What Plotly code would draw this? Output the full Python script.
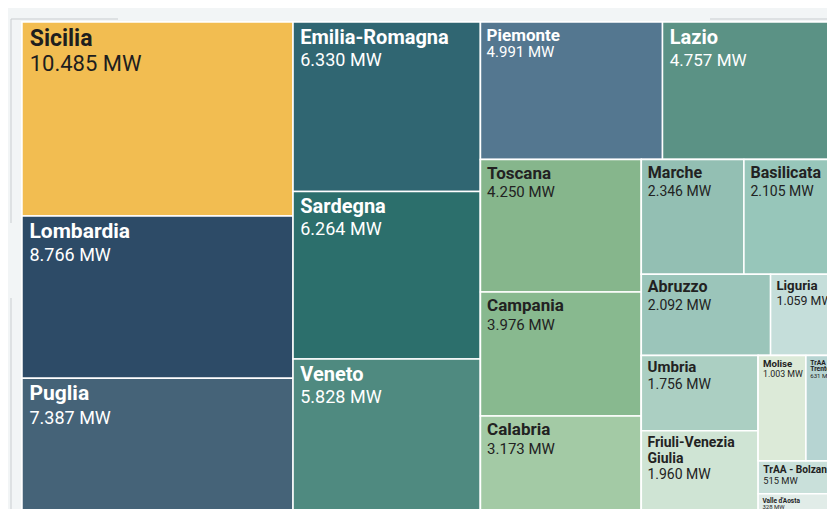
import plotly.graph_objects as go

# ---- data ----
regions = ["Sicilia", "Lombardia", "Puglia",
           "Emilia-Romagna", "Sardegna", "Veneto",
           "Piemonte", "Lazio",
           "Toscana", "Campania", "Calabria",
           "Marche", "Basilicata", "Abruzzo", "Liguria",
           "Umbria", "Friuli-Venezia Giulia",
           "Molise", "TrAA - Trento", "TrAA - Bolzano", "Valle d'Aosta"]
display = ["Sicilia", "Lombardia", "Puglia",
           "Emilia-Romagna", "Sardegna", "Veneto",
           "Piemonte", "Lazio",
           "Toscana", "Campania", "Calabria",
           "Marche", "Basilicata", "Abruzzo", "Liguria",
           "Umbria", "Friuli-Venezia<br>Giulia",
           "Molise", "TrAA -<br>Trento", "TrAA - Bolzano", "Valle d'Aosta"]
mw = [10485, 8766, 7387,
      6330, 6264, 5828,
      4991, 4757,
      4250, 3976, 3173,
      2346, 2105, 2092, 1059,
      1756, 1960,
      1003, 631, 515, 328]
# layout groups (hierarchy used for slice/dice tiling)
region_group = ["C1", "C1", "C1",
                "C2", "C2", "C2",
                "C3top", "C3top",
                "TosCol", "TosCol", "TosCol",
                "R1", "R1", "R2", "R2",
                "UF", "UF",
                "MT", "MT", "RG", "RG"]
groups = ["root", "C1", "C2", "C3", "C3top", "C3bot", "TosCol", "Small",
          "R1", "R2", "R3", "UF", "RG", "MT"]
group_parent = ["", "root", "root", "root", "C3", "C3", "C3bot", "C3bot",
                "Small", "Small", "Small", "R3", "R3", "RG"]

colors = ["#F2BD51", "#2D4B67", "#456378",
          "#306672", "#2C6F6C", "#4F8A80",
          "#547790", "#5B9285",
          "#86B68C", "#88B98F", "#A3CAA5",
          "#93BFB3", "#97C6BA", "#9BC5BA", "#C5DEDA",
          "#ABCFC2", "#CFE4D4",
          "#DCEAD8", "#B6D4D2", "#C9E0DA", "#E1ECE8"]
text_colors = ["#1E1E1E", "white", "white",
               "white", "white", "white",
               "white", "white"] + ["#222222"] * 13
label_sizes = [23, 21, 21, 20, 20, 20, 17, 20, 17, 17, 17,
               16, 16, 16, 15, 15, 14, 11, 11, 12, 6.5]
value_sizes = [22, 18, 18, 18, 18, 18, 15, 17, 15, 15, 15,
               14, 14, 14, 14, 14, 14, 10, 10, 11, 6]
line_sizes = [19, 18, 18, 17, 17, 17, 12.5, 17, 14.5, 14.5, 14.5,
              14, 14, 14, 13, 13, 12.5, 8.5, 8.5, 10, 5]

# ---- build treemap ----
ids = groups + regions
parents = group_parent + region_group
labels = groups + regions
values = [0] * len(groups) + mw
fmt = lambda v: f"{v:,}".replace(",", ".") + " MW"
nb = "\u00a0"
templates = [""] * len(groups) + [
    f"{nb}<span style='font-size:{ls}px'><b>{d.replace('<br>', '</b></span><br>' + nb + f'<span style=\"font-size:{ls}px\"><b>')}</b></span>"
    f"<br>{nb}<span style='font-size:{vs}px'>{fmt(v)}</span>"
    for d, v, ls, vs in zip(display, mw, label_sizes, value_sizes)]
mcolors = ["#F6F8F9"] + ["white"] * (len(groups) - 1) + colors
tcolors = ["white"] * len(groups) + text_colors
tsizes = [12] * len(groups) + line_sizes

fig = go.Figure(go.Treemap(
    ids=ids, labels=labels, parents=parents, values=values,
    branchvalues="remainder", sort=False,
    texttemplate=templates, textposition="top left",
    textfont=dict(family="Roboto", color=tcolors, size=tsizes),
    marker=dict(colors=mcolors, line=dict(color="white", width=1.5),
                pad=dict(t=0, l=0, r=0, b=0)),
    tiling=dict(packing="slice-dice", pad=0),
    pathbar=dict(visible=False),
    hoverinfo="skip",
))

L, T, R, B = 14, 14, 7, 2
W, H = 835 - L - R, 509 - T - B
px = lambda x: (x - L) / W
py = lambda y: 1 - (y - T) / H
line_style = dict(color="#C9CDD0", width=1)
fig.update_layout(
    width=835, height=509,
    margin=dict(l=L, r=R, t=T, b=B),
    paper_bgcolor="#F2F5F6",
    uniformtext=dict(mode=False),
    shapes=[
        dict(type="line", xref="paper", yref="paper", x0=px(3), x1=px(110), y0=py(11), y1=py(11), line=line_style),
        dict(type="line", xref="paper", yref="paper", x0=px(702), x1=px(835), y0=py(11), y1=py(11), line=line_style),
        dict(type="line", xref="paper", yref="paper", x0=px(3), x1=px(3), y0=py(11), y1=py(215), line=line_style),
        dict(type="line", xref="paper", yref="paper", x0=px(3), x1=px(3), y0=py(290), y1=py(509), line=line_style),
    ],
)

fig.write_html("out.html")
